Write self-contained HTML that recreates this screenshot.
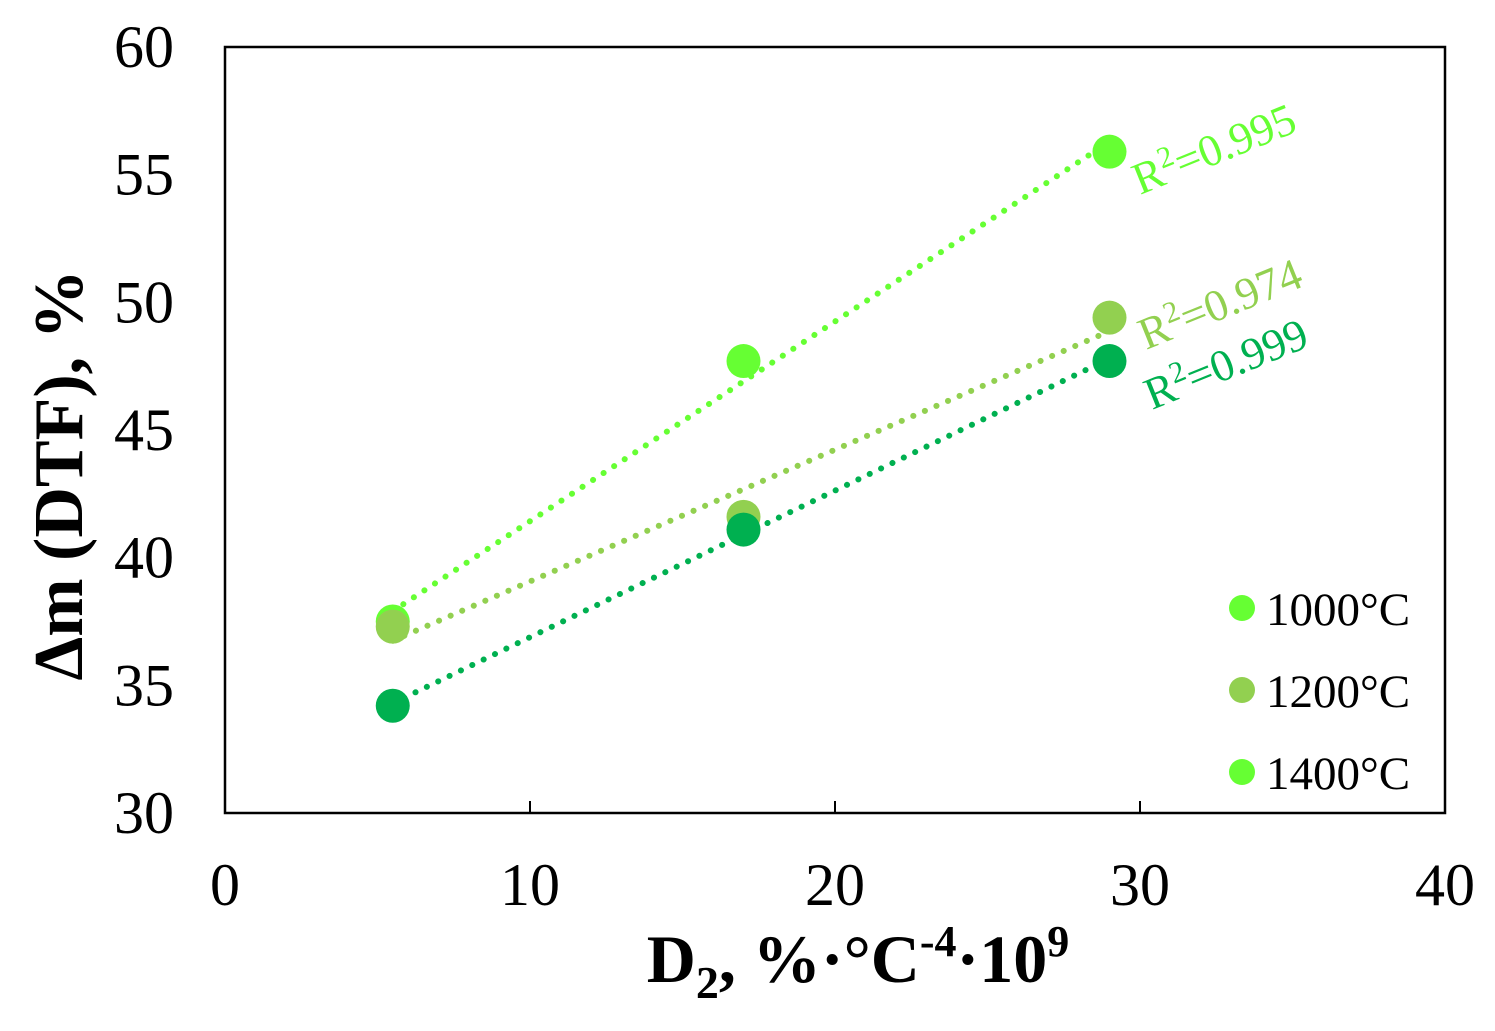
<!DOCTYPE html>
<html><head><meta charset="utf-8"><style>
body{margin:0;background:#fff}
svg text{font-family:"Liberation Serif",serif}
</style></head><body>
<svg id="c" width="1495" height="1026"></svg>
<script>
const xVals=[5.5,17,29];
const s1000=[37.5,47.7,55.9];
const s1200=[37.3,41.6,49.4];
const s1400=[34.2,41.1,47.7];
const seriesNames=['1000°C','1200°C','1400°C'];
const r2Labels=['R²=0.995','R²=0.974','R²=0.999'];
const xTicks=[0,10,20,30,40];
const yTicks=[30,35,40,45,50,55,60];
const colors=['#66ff33','#92d050','#00b050'];
const X0=225,X1=1445,Y0=813,Y1=47;
const xs=v=>X0+(v-0)/(40-0)*(X1-X0);
const ys=v=>Y0-(v-30)/(60-30)*(Y0-Y1);
const svg=document.getElementById('c');
const NS='http://www.w3.org/2000/svg';
function mk(t,a,p){const e=document.createElementNS(NS,t);for(const k in a)e.setAttribute(k,a[k]);(p||svg).appendChild(e);return e;}
let e=mk('rect',{x:X0,y:Y1,width:X1-X0,height:Y0-Y1,fill:'none',stroke:'#000','stroke-width':2.5});


xTicks.forEach(t=>{
 const l=mk('line',{x1:xs(t),x2:xs(t),y1:Y0,y2:Y0-12,stroke:'#000','stroke-width':2});
 
 
 const tx=mk('text',{x:xs(t),y:905,'font-size':60,'text-anchor':'middle'});tx.textContent=t;
 
 
});
yTicks.forEach(t=>{
 const tx=mk('text',{x:174,y:ys(t)+20,'font-size':60,'text-anchor':'end'});tx.textContent=t;
 
 
});
const series=[s1000,s1200,s1400];
const labPos=[[1140,195,-22],[1146,350,-22],[1152,410,-22]];
series.forEach((s,i)=>{
 const n=xVals.length,mx=xVals.reduce((a,b)=>a+b)/n,my=s.reduce((a,b)=>a+b)/n;
 let sxy=0,sxx=0;xVals.forEach((x,j)=>{sxy+=(x-mx)*(s[j]-my);sxx+=(x-mx)**2;});
 const b=sxy/sxx,a=my-b*mx;
 const xa=xVals[0],xb=xVals[n-1];
 const l=mk('line',{x1:xs(xa),y1:ys(a+b*xa),x2:xs(xb),y2:ys(a+b*xb),stroke:colors[i],'stroke-width':6,'stroke-linecap':'round','stroke-dasharray':'0.1 12.5'});
 
 
});
series.forEach((s,i)=>{
 s.forEach((v,j)=>{
  const c=mk('circle',{cx:xs(xVals[j]),cy:ys(v),r:17,fill:colors[i]});
  
  
 });
 const p=labPos[i];
 const t=mk('text',{x:p[0],y:p[1],'font-size':45,fill:colors[i],transform:`rotate(${p[2]} ${p[0]} ${p[1]})`});
 t.innerHTML='R<tspan dy="-16" font-size="30">2</tspan><tspan dy="16">=0.'+r2Labels[i].split('.')[1]+'</tspan>';
 
 
 const ly=608+i*82;
 const lc=mk('circle',{cx:1242,cy:ly,r:13,fill:i==1?colors[1]:colors[0]});
 
 
 const lt=mk('text',{x:1266,y:ly+17,'font-size':47});lt.textContent=seriesNames[i];
 
 
});
let xt=mk('text',{x:858,y:982,'font-size':68,'font-weight':'bold','text-anchor':'middle'});
xt.innerHTML='D<tspan dy="16" font-size="46">2</tspan><tspan dy="-16">, %·°C</tspan><tspan dy="-26" font-size="44">-4</tspan><tspan dy="26">·10</tspan><tspan dy="-26" font-size="44">9</tspan>';


let yt=mk('text',{x:82,y:475,'font-size':70,'font-weight':'bold','text-anchor':'middle',transform:'rotate(-90 82 475)'});
yt.textContent='Δm (DTF), %';


</script>
</body></html>
